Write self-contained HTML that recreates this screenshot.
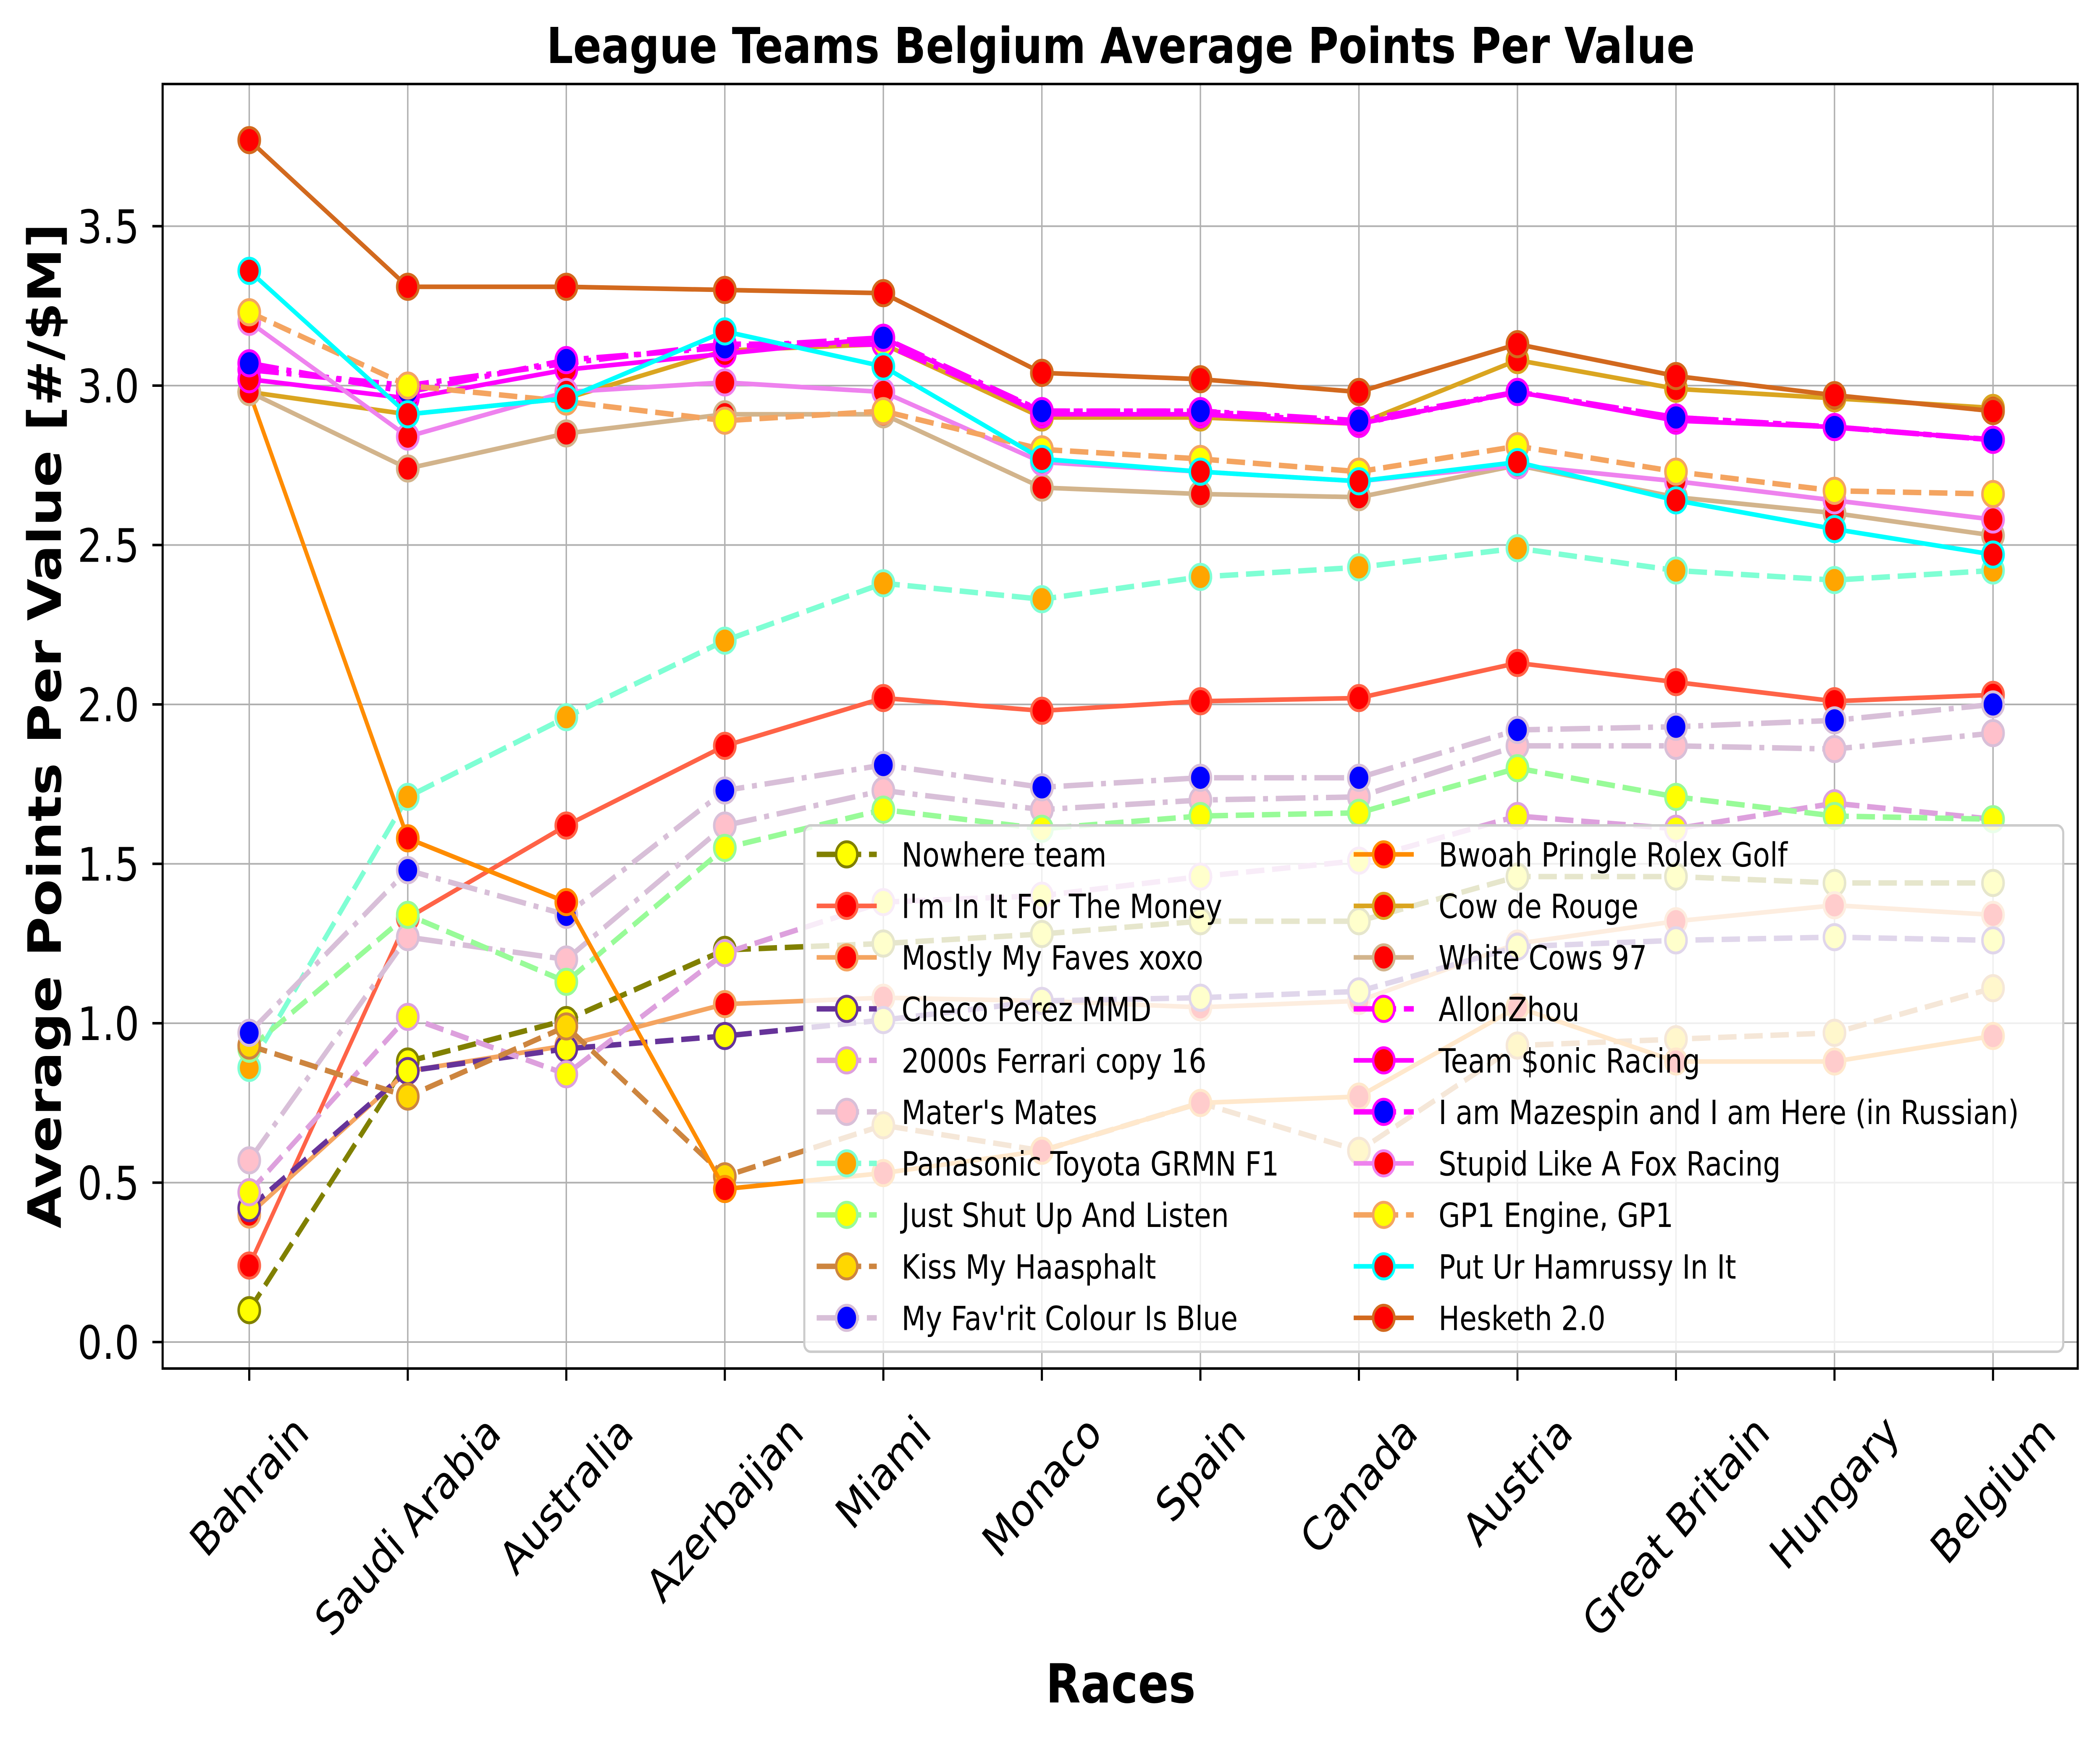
<!DOCTYPE html>
<html><head><meta charset="utf-8"><style>
html,body{margin:0;padding:0;background:#fff;width:100%;height:100%;overflow:hidden;}
svg{display:block;position:absolute;left:0;top:0;width:100vw;height:100vh;font-family:"DejaVu Sans","Liberation Sans",sans-serif;}
</style></head><body>
<svg id="chart" viewBox="0 0 5940 4140" preserveAspectRatio="none" xmlns="http://www.w3.org/2000/svg" overflow="hidden">
<rect width="5940" height="4140" fill="#fff"/>
<g id="grid"></g>
<g id="series"></g>
<g id="axes"></g>
<g id="legend"></g>
<text x="3170" y="150" text-anchor="middle" font-size="118" font-weight="bold">League Teams Belgium Average Points Per Value</text>
<text x="3170" y="4053" text-anchor="middle" font-size="128" font-weight="bold">Races</text>
<text transform="translate(172,1728) rotate(-90)" text-anchor="middle" font-size="130" font-weight="bold">Average Points Per Value [#/$M]</text>
</svg>
<script>
const races = ["Bahrain","Saudi Arabia","Australia","Azerbaijan","Miami","Monaco","Spain","Canada","Austria","Great Britain","Hungary","Belgium"];
const yTicks = [0.0,0.5,1.0,1.5,2.0,2.5,3.0,3.5];
const teamNames = ["Nowhere team","I'm In It For The Money","Mostly My Faves xoxo","Checo Perez MMD","2000s Ferrari copy 16","Mater's Mates","Panasonic Toyota GRMN F1","Just Shut Up And Listen","Kiss My Haasphalt","My Fav'rit Colour Is Blue","Bwoah Pringle Rolex Golf","Cow de Rouge","White Cows 97","AllonZhou","Team $onic Racing","I am Mazespin and I am Here (in Russian)","Stupid Like A Fox Racing","GP1 Engine, GP1","Put Ur Hamrussy In It","Hesketh 2.0"];
const nowhereTeam = [0.10,0.88,1.01,1.23,1.25,1.28,1.32,1.32,1.46,1.46,1.44,1.44];
const inItForMoney = [0.24,1.33,1.62,1.87,2.02,1.98,2.01,2.02,2.13,2.07,2.01,2.03];
const mostlyMyFaves = [0.40,0.85,0.93,1.06,1.08,1.07,1.05,1.07,1.25,1.32,1.37,1.34];
const checoPerez = [0.42,0.85,0.92,0.96,1.01,1.07,1.08,1.10,1.24,1.26,1.27,1.26];
const ferrariCopy = [0.47,1.02,0.84,1.22,1.38,1.40,1.46,1.51,1.65,1.61,1.69,1.64];
const matersMates = [0.57,1.27,1.20,1.62,1.73,1.67,1.70,1.71,1.87,1.87,1.86,1.91];
const panasonicToyota = [0.86,1.71,1.96,2.20,2.38,2.33,2.40,2.43,2.49,2.42,2.39,2.42];
const justShutUp = [0.92,1.34,1.13,1.55,1.67,1.61,1.65,1.66,1.80,1.71,1.65,1.64];
const kissMyHaas = [0.93,0.77,0.99,0.52,0.68,0.60,0.75,0.60,0.93,0.95,0.97,1.11];
const favColourBlue = [0.97,1.48,1.34,1.73,1.81,1.74,1.77,1.77,1.92,1.93,1.95,2.00];
const bwoahPringle = [2.98,1.58,1.38,0.48,0.53,0.60,0.75,0.77,1.05,0.88,0.88,0.96];
const cowDeRouge = [2.98,2.91,2.96,3.11,3.13,2.90,2.90,2.88,3.08,2.99,2.96,2.93];
const whiteCows = [2.98,2.74,2.85,2.91,2.91,2.68,2.66,2.65,2.75,2.65,2.60,2.53];
const allonZhou = [3.05,3.00,3.07,3.13,3.13,2.92,2.92,2.88,2.98,2.90,2.87,2.83];
const teamSonic = [3.02,2.96,3.05,3.10,3.15,2.91,2.91,2.88,2.98,2.89,2.87,2.83];
const mazespin = [3.07,2.98,3.08,3.12,3.15,2.92,2.92,2.89,2.98,2.90,2.87,2.83];
const stupidFox = [3.20,2.84,2.98,3.01,2.98,2.76,2.73,2.70,2.75,2.70,2.64,2.58];
const gp1Engine = [3.23,3.00,2.95,2.89,2.92,2.80,2.77,2.73,2.81,2.73,2.67,2.66];
const hamrussy = [3.36,2.91,2.96,3.17,3.06,2.77,2.73,2.70,2.76,2.64,2.55,2.47];
const hesketh = [3.77,3.31,3.31,3.30,3.29,3.04,3.02,2.98,3.13,3.03,2.97,2.92];

const seriesValues = [nowhereTeam,inItForMoney,mostlyMyFaves,checoPerez,ferrariCopy,matersMates,panasonicToyota,justShutUp,kissMyHaas,favColourBlue,bwoahPringle,cowDeRouge,whiteCows,allonZhou,teamSonic,mazespin,stupidFox,gp1Engine,hamrussy,hesketh];
// style: [lineColor, dash, face, edge]
const styles = [
 ["#808000","d","#ffff00","#808000"],["#ff6347","s","#ff0000","#ff6347"],["#f4a460","s","#ff0000","#f4a460"],
 ["#663399","d","#ffff00","#663399"],["#dda0dd","d","#ffff00","#dda0dd"],["#d8bfd8","dd","#ffc0cb","#d8bfd8"],
 ["#7fffd4","d","#ffa500","#7fffd4"],["#98fb98","d","#ffff00","#98fb98"],["#cd853f","d","#ffd700","#cd853f"],
 ["#d8bfd8","dd","#0000ff","#d8bfd8"],["#ff8c00","s","#ff0000","#ff8c00"],["#daa520","s","#ff0000","#daa520"],
 ["#d2b48c","s","#ff0000","#d2b48c"],["#ff00ff","dd","#ffff00","#ff00ff"],["#ff00ff","s","#ff0000","#ff00ff"],
 ["#ff00ff","dd","#0000ff","#ff00ff"],["#ee82ee","s","#ff0000","#ee82ee"],["#f4a460","d","#ffff00","#f4a460"],
 ["#00ffff","s","#ff0000","#00ffff"],["#d2691e","s","#ff0000","#d2691e"]];

const NS="http://www.w3.org/2000/svg";
const L=460,R=5877,T=200,B=3258;
const X0=705,DX=448.4,Y0=3195,UY=759;
const xs=i=>X0+i*DX;
const ys=v=>Y0-v*UY;
function mk(tag,attrs,parent){const e=document.createElementNS(NS,tag);for(const k in attrs)e.setAttribute(k,attrs[k]);parent.appendChild(e);return e;}
const dashOf=d=>d==="d"?"52,22":(d==="dd"?"84,22,14,22":"none");

const grid=document.getElementById('grid'),axes=document.getElementById('axes'),ser=document.getElementById('series'),leg=document.getElementById('legend');
races.forEach((r,i)=>{
 const g=mk('line',{x1:xs(i),x2:xs(i),y1:T,y2:B,stroke:'#b0b0b0','stroke-width':4},grid);
 
 
 const t=mk('line',{x1:xs(i),x2:xs(i),y1:B,y2:B+29,stroke:'#000','stroke-width':6},axes);
 
 
 const lab=mk('text',{'font-size':108,'text-anchor':'middle','dominant-baseline':'central'},axes);
 lab.textContent=r;
 
 
 const w=lab.getComputedTextLength();
 const h=(w+100)*0.7071;
 lab.setAttribute('transform',`translate(${xs(i)},${3355+h/2}) rotate(-45)`);
});
yTicks.forEach(v=>{
 const g=mk('line',{x1:L,x2:R,y1:ys(v),y2:ys(v),stroke:'#b0b0b0','stroke-width':4},grid);
 
 
 const t=mk('line',{x1:L-29,x2:L,y1:ys(v),y2:ys(v),stroke:'#000','stroke-width':6},axes);
 
 
 const lab=mk('text',{x:394,y:ys(v)+40,'font-size':110,'text-anchor':'end'},axes);
 lab.textContent=v.toFixed(1);
 
 
});
const frame=mk('rect',{x:L,y:T,width:R-L,height:B-T,fill:'none',stroke:'#000','stroke-width':6},axes);



seriesValues.forEach((vals,k)=>{
 const st=styles[k];
 const g=mk('g',{},ser);
 
 
 const pts=vals.map((v,i)=>xs(i)+','+ys(v)).join(' ');
 const pl=mk('polyline',{points:pts,fill:'none',stroke:st[0],'stroke-width':st[1]==='s'?11:13,'stroke-dasharray':dashOf(st[1]),'stroke-linejoin':'round'},g);
 
 
 vals.forEach((v,i)=>{
  const c=mk('circle',{cx:xs(i),cy:ys(v),r:30,fill:st[2],stroke:st[3],'stroke-width':7},g);
  
  
 });
});

// legend
const lb=mk('rect',{x:2275,y:1965,width:3561,height:1253,rx:18,fill:'rgba(255,255,255,0.8)',stroke:'#cccccc','stroke-width':6},leg);


teamNames.forEach((n,k)=>{
 const st=styles[k];
 const col=k<10?0:1,row=k%10;
 const hx=col?3829:2310,cy=2034+row*122.6;
 const g=mk('g',{},leg);
 
 
 mk('line',{x1:hx,x2:hx+170,y1:cy,y2:cy,stroke:st[0],'stroke-width':st[1]==='s'?11:13,'stroke-dasharray':st[1]==='s'?'none':(st[1]==='d'?'52,22':'84,22,14,22')},g);
 mk('circle',{cx:hx+85,cy:cy,r:30,fill:st[2],stroke:st[3],'stroke-width':7},g);
 const t=mk('text',{x:hx+240,y:cy+29,'font-size':79},g);
 t.textContent=n;
});
</script>
</body></html>
